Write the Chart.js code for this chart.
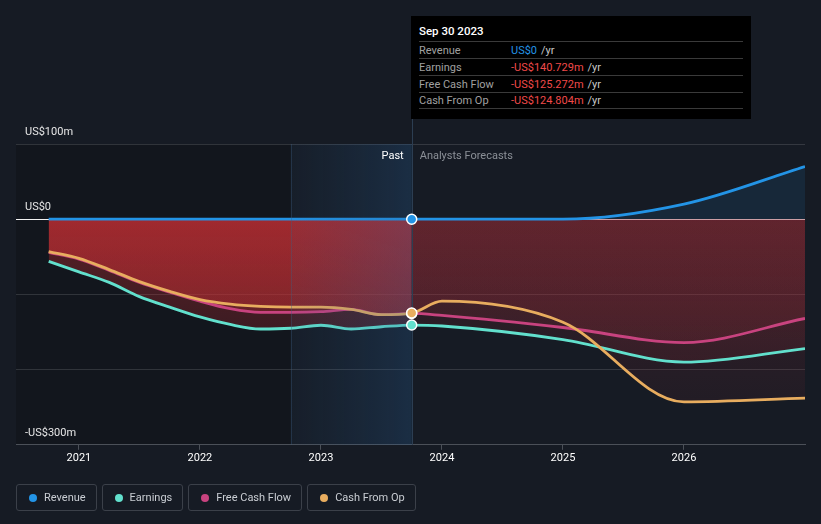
<!DOCTYPE html>
<html>
<head>
<meta charset="utf-8">
<style>
  html, body { margin: 0; padding: 0; background: #161b24; }
  body { width: 821px; height: 524px; overflow: hidden; position: relative; font-family: Roboto, "Noto Sans", sans-serif; }
  #c { position: absolute; left: 0; top: 0; }
  #tip { position: absolute; left: 411px; top: 16px; width: 340px; height: 103px; background: #000; box-sizing: border-box; padding: 0 8px; font-size: 11px; }
  #tip .date { padding-top: 8px; line-height: 14px; height: 25px; box-sizing: border-box; color: #fff; font-weight: 500; font-size: 11.5px; }
  #tip .row { height: 17px; box-sizing: border-box; border-top: 1px solid #3a3a3a; display: flex; align-items: center; }
  #tip .row:last-child { border-bottom: 1px solid #3a3a3a; }
  #tip .lab { width: 92px; color: #a0a0a0; }
  #tip .unit { color: #c8c8c8; margin-left: 4px; }
  #legend { position: absolute; left: 16px; top: 484px; display: flex; gap: 5px; }
  #legend .item { height: 27px; box-sizing: border-box; border: 1px solid #3b4049; border-radius: 3px; padding: 0 10px 0 12px; display: flex; align-items: center; color: #c9cdd3; font-size: 11px; }
  #legend .dot { width: 8px; height: 8px; border-radius: 50%; margin-right: 7px; }
</style>
</head>
<body>
<canvas id="c" width="821" height="524"></canvas>
<div id="tip"></div>
<div id="legend"></div>

<script src="https://cdn.jsdelivr.net/npm/chart.js"></script>
<script>
  // dates as decimal years: quarterly history, then yearly analyst forecasts
  const pastDates = [2020.75, 2021, 2021.25, 2021.5, 2021.75, 2022, 2022.25, 2022.5, 2022.75, 2023, 2023.25, 2023.5, 2023.75];
  const futureDates = [2024, 2025, 2026, 2027];

  // values in US$ m
  const revenue = [0, 0, 0, 0, 0, 0, 0, 0, 0, 0, 0, 0, 0, 0, 0, 20, 70];
  const earnings = [-56, -70, -84, -103, -117, -130, -140, -146, -145, -141, -146, -143, -140.729, -142, -160, -190, -172];
  const freeCashFlow = [-44, -53, -68, -84, -97, -109, -119, -124, -124, -123, -120, -127, -125.272, -128, -144, -164, -132];
  const cashFromOp = [-43, -52, -67, -83, -96, -107, -113, -116, -117, -117, -120, -127, -124.804, -109, -137, -243, -238];

  const yearTicks = [2021, 2022, 2023, 2024, 2025, 2026];
  const yGridValues = [100, 0, -100, -200, -300];
  const yLabels = { '100': 'US$100m', '0': 'US$0', '-300': '-US$300m' };

  const seriesNames = ['Revenue', 'Earnings', 'Free Cash Flow', 'Cash From Op'];
  const seriesColors = ['#2394e6', '#62e0cd', '#c8437f', '#e8ad5f'];
  const tooltipDate = 'Sep 30 2023';

  const dates = pastDates.concat(futureDates);
  const pastEnd = pastDates[pastDates.length - 1];
  const highlightStart = pastDates[8];
  const FONT = 'Roboto, "Noto Sans", sans-serif';

  const grads = {};

  function toPoints(vals) {
    return dates.map((x, i) => ({ x: x, y: vals[i] }));
  }

  const negSegment = {
    backgroundColor: c => c.p0.parsed.x < pastEnd ? grads.past : grads.future,
    borderDashOffset: c => c.p0.parsed.x < pastEnd ? 0 : 1
  };

  const allSeries = [revenue, earnings, freeCashFlow, cashFromOp];
  const lineOrder = [1, 4, 3, 2];

  const datasets = allSeries.map((vals, i) => ({
    label: seriesNames[i],
    data: toPoints(vals),
    borderColor: seriesColors[i],
    backgroundColor: i === 0 ? 'rgba(35,148,230,0.11)' : 'rgba(200,45,50,0.3)',
    borderWidth: 2.8,
    pointRadius: 0,
    fill: 'origin',
    cubicInterpolationMode: 'monotone',
    order: lineOrder[i],
    segment: i === 0 ? undefined : negSegment
  }));

  // dots at the last reported date (orange drawn over pink)
  const markerOrder = [-4, -2, -1, -3];
  allSeries.forEach((vals, i) => {
    datasets.push({
      marker: true,
      data: [{ x: pastEnd, y: vals[pastDates.length - 1] }],
      showLine: false,
      fill: false,
      pointRadius: 5,
      pointBorderWidth: 1.5,
      pointBorderColor: '#ffffff',
      pointBackgroundColor: seriesColors[i],
      order: markerOrder[i]
    });
  });

  let overlayDone = false;

  const decor = {
    id: 'decor',
    afterLayout(chart) {
      const ctx = chart.ctx;
      const y0 = chart.scales.y.getPixelForValue(0);
      const yb = chart.chartArea.bottom;
      const p = ctx.createLinearGradient(0, y0, 0, yb);
      p.addColorStop(0, 'rgba(205,48,52,0.38)');
      p.addColorStop(1, 'rgba(205,48,52,0.08)');
      const f = ctx.createLinearGradient(0, y0, 0, yb);
      f.addColorStop(0, 'rgba(165,45,55,0.22)');
      f.addColorStop(1, 'rgba(165,45,55,0.06)');
      grads.past = p;
      grads.future = f;
    },
    beforeDraw(chart) {
      const { ctx, chartArea: a, scales: { x } } = chart;
      const x1 = x.getPixelForValue(highlightStart);
      ctx.save();
      ctx.fillStyle = 'rgba(0,0,0,0.18)';
      ctx.fillRect(a.left, a.top, x1 - a.left, a.bottom - a.top);
      ctx.restore();
    },
    beforeDatasetsDraw() {
      overlayDone = false;
    },
    beforeDatasetDraw(chart, args) {
      if (overlayDone || !chart.data.datasets[args.index].marker) return;
      overlayDone = true;
      const { ctx, chartArea: a, scales: { x } } = chart;
      const x1 = x.getPixelForValue(highlightStart);
      const x2 = x.getPixelForValue(pastEnd);
      ctx.save();
      const g = ctx.createLinearGradient(x1, 0, x2, 0);
      g.addColorStop(0, 'rgba(40,90,140,0.06)');
      g.addColorStop(1, 'rgba(40,100,160,0.26)');
      ctx.fillStyle = g;
      ctx.fillRect(x1, a.top, x2 - x1, a.bottom - a.top);
      ctx.strokeStyle = 'rgba(60,95,130,0.35)';
      ctx.lineWidth = 1;
      ctx.beginPath();
      ctx.moveTo(Math.round(x1) + 0.5, a.top);
      ctx.lineTo(Math.round(x1) + 0.5, a.bottom);
      ctx.stroke();
      ctx.strokeStyle = '#2c3e52';
      ctx.beginPath();
      ctx.moveTo(Math.round(x2) + 0.5, 119);
      ctx.lineTo(Math.round(x2) + 0.5, a.bottom);
      ctx.stroke();
      ctx.restore();
    },
    afterDraw(chart) {
      const { ctx, chartArea: a, scales: { x, y } } = chart;
      const x2 = x.getPixelForValue(pastEnd);
      ctx.save();
      ctx.font = '11px ' + FONT;
      ctx.textBaseline = 'middle';
      ctx.textAlign = 'right';
      ctx.fillStyle = '#ffffff';
      ctx.fillText('Past', x2 - 8, 156);
      ctx.textAlign = 'left';
      ctx.fillStyle = '#8b9097';
      ctx.fillText('Analysts Forecasts', x2 + 8, 156);
      // y axis labels sit just above their grid line
      ctx.fillStyle = '#e6e6e6';
      yGridValues.forEach(v => {
        const t = yLabels[String(v)];
        if (t) ctx.fillText(t, a.left + 9, y.getPixelForValue(v) - 12);
      });
      ctx.restore();
    }
  };

  new Chart(document.getElementById('c'), {
    type: 'line',
    data: { datasets: datasets },
    options: {
      responsive: false,
      animation: false,
      events: [],
      layout: { padding: { left: 16, right: 16, top: 144, bottom: 57 } },
      plugins: {
        legend: { display: false },
        tooltip: { enabled: false },
        filler: { drawTime: 'beforeDatasetsDraw' }
      },
      scales: {
        x: {
          type: 'linear',
          min: 2020.48,
          max: 2027,
          afterBuildTicks: s => { s.ticks = yearTicks.map(v => ({ value: v })); },
          ticks: { color: '#ffffff', font: { size: 11, family: FONT }, padding: 2, maxRotation: 0, autoSkip: false, callback: v => String(v) },
          grid: { drawOnChartArea: false, color: '#4b5058', tickLength: 5 },
          border: { color: '#4b5058' }
        },
        y: {
          min: -300,
          max: 100,
          afterBuildTicks: s => { s.ticks = yGridValues.map(v => ({ value: v })); },
          ticks: { display: false },
          grid: { drawTicks: false, color: c => c.tick && c.tick.value === 0 ? '#f2f2f2' : 'rgba(255,255,255,0.13)' },
          border: { display: false }
        }
      }
    },
    plugins: [decor]
  });

  // tooltip box for the last reported date
  const last = pastDates.length - 1;
  function fmt(v) {
    if (v === 0) return 'US$0';
    const s = Math.abs(v).toFixed(3) + 'm';
    return (v < 0 ? '-US$' : 'US$') + s;
  }
  let html = '<div class="date">' + tooltipDate + '</div>';
  allSeries.forEach((vals, i) => {
    const v = vals[last];
    const col = v < 0 ? '#f04a4a' : seriesColors[0];
    html += '<div class="row"><span class="lab">' + seriesNames[i] + '</span><span style="color:' + col + '">' + fmt(v) + '</span><span class="unit">/yr</span></div>';
  });
  document.getElementById('tip').innerHTML = html;

  // legend buttons
  document.getElementById('legend').innerHTML = seriesNames.map((n, i) =>
    '<div class="item"><span class="dot" style="background:' + seriesColors[i] + '"></span>' + n + '</div>').join('');
</script>
</body>
</html>
